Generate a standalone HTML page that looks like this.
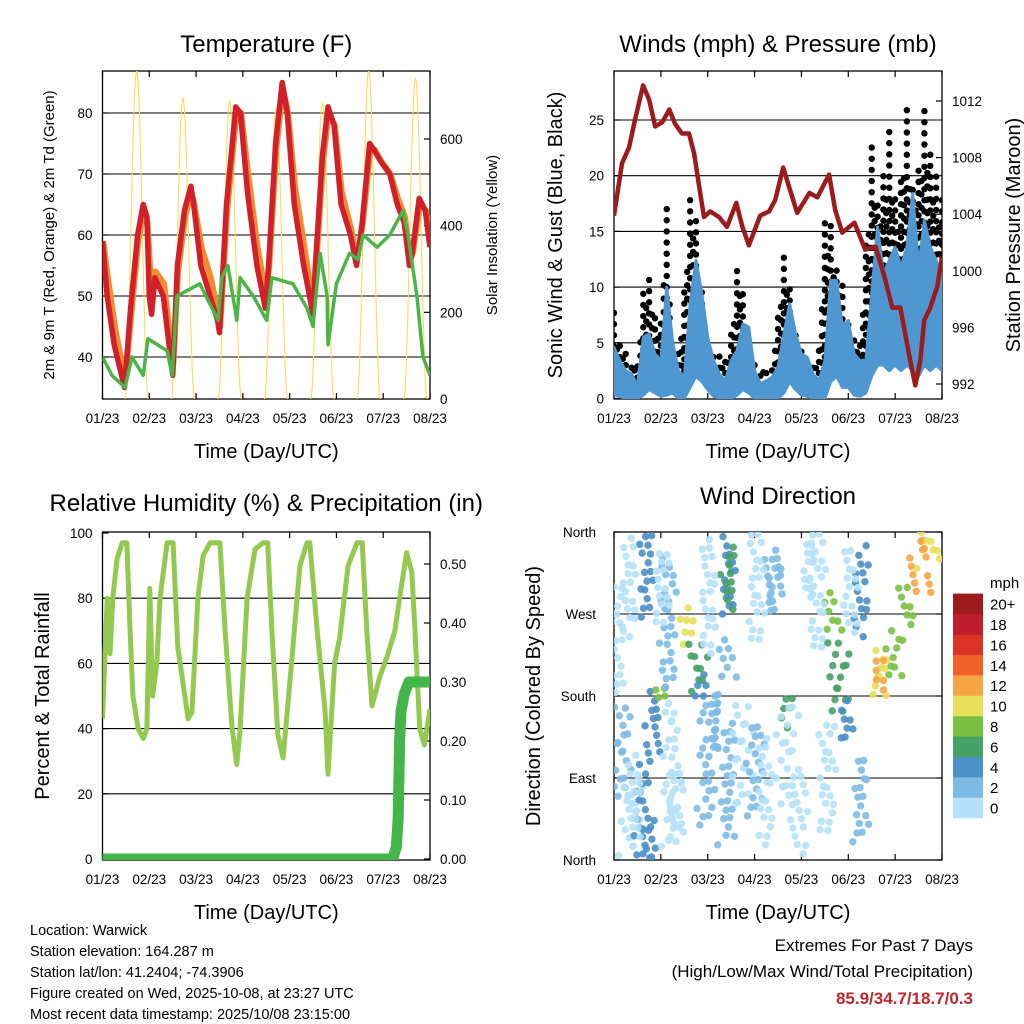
<!DOCTYPE html>
<html><head><meta charset="utf-8"><style>
html,body{margin:0;padding:0;background:#fff;}
svg{display:block;font-family:"Liberation Sans",Arial,sans-serif;}
</style></head><body>
<svg id="c" width="1024" height="1024" viewBox="0 0 1024 1024" xmlns="http://www.w3.org/2000/svg">
<defs>
<clipPath id="cp1"><rect x="102.5" y="71" width="327.5" height="328"/></clipPath>
<clipPath id="cp2"><rect x="614" y="71" width="328" height="328"/></clipPath>
<clipPath id="cp3"><rect x="102.5" y="532" width="327.5" height="328"/></clipPath>
<clipPath id="cp4"><rect x="614" y="532" width="328" height="328"/></clipPath>
</defs>
<g id="g1"></g>
<g id="g2"></g>
<g id="g3"></g>
<g id="g4"></g>
<g font-size="14.5" fill="#000">
<text x="30" y="935">Location: Warwick</text>
<text x="30" y="956">Station elevation: 164.287 m</text>
<text x="30" y="977">Station lat/lon: 41.2404; -74.3906</text>
<text x="30" y="998">Figure created on Wed, 2025-10-08, at 23:27 UTC</text>
<text x="30" y="1019">Most recent data timestamp: 2025/10/08 23:15:00</text>
</g>
<g text-anchor="end">
<text x="973" y="951" font-size="17">Extremes For Past 7 Days</text>
<text x="973" y="977" font-size="17">(High/Low/Max Wind/Total Precipitation)</text>
<text x="973" y="1004" font-size="17" font-weight="bold" fill="#c1272d">85.9/34.7/18.7/0.3</text>
</g>
</svg>
<script>
// ---------- DATA ----------
const dayTicks = ["01/23","02/23","03/23","04/23","05/23","06/23","07/23","08/23"];
const tempTicks = [40,50,60,70,80];
const solarTicks = [0,200,400,600];
const windTicks = [0,5,10,15,20,25];
const presTicks = [992,996,1000,1004,1008,1012];
const rhTicks = [0,20,40,60,80,100];
const rainTicks = [0,0.1,0.2,0.3,0.4,0.5];
const dirTickVals = [0,90,180,270,360];
const dirTickLabels = ["North","East","South","West","North"];
const speedLabels = ["0","2","4","6","8","10","12","14","16","18","20+"];
const speedColors = ["#b5e2f8","#7dbbe6","#4a8fc7","#45a166","#7ac143","#e8e05a","#f6a544","#ef6128","#dc3328","#be1e2d","#9e1a1d"];

const redDays = [0,0.1,0.25,0.47,0.6,0.75,0.87,0.95,1.0,1.05,1.12,1.3,1.5,1.6,1.75,1.89,1.95,2.1,2.3,2.46,2.5,2.65,2.85,2.95,3.1,3.3,3.48,3.55,3.7,3.84,3.95,4.1,4.3,4.5,4.55,4.7,4.82,4.95,5.1,5.3,5.43,5.55,5.71,5.8,5.95,6.14,6.3,6.45,6.56,6.62,6.77,6.9,7];
const redVals = [59,50,42,35,48,60,65,63,50,47,53,50,37,55,64,68,65,55,50,46,44,65,81,80,67,55,48,55,75,85,80,65,55,47,55,73,81,78,65,60,55,62,75,74,72,70,65,62,55,57,66,64,58];
const orangeVals = [59,53,45,36,47,59,64,62,55,52,54,52,39,54,63,67,65,58,53,47,45,64,80,80,70,58,50,55,74,84,80,68,58,48,55,72,80,78,67,61,56,62,74,74,72,70,66,63,56,57,65,64,59];
const tdDays = [0,0.2,0.48,0.63,0.87,0.97,1.38,1.49,1.59,2.08,2.47,2.55,2.68,2.87,2.94,3.22,3.51,3.62,4.07,4.37,4.5,4.65,4.8,4.82,5.0,5.28,5.46,5.57,5.87,6.14,6.42,6.53,6.72,6.85,7];
const tdVals = [40,37,35,40,37,43,41,37,50,52,46,53,55,46,53,50,46,53,52,48,45,57,50,42,52,57,56,60,58,60,64,60,50,40,37];
const solarPeakDays = [0.73,1.72,2.72,3.71,4.70,5.69,6.69];
const solarPeakVals = [758,694,687,671,683,758,740];

const presDays = [0,.17,.32,.45,.62,.75,.88,1.03,1.18,1.30,1.45,1.60,1.71,1.84,1.92,2.05,2.24,2.41,2.61,2.74,2.88,3.12,3.31,3.44,3.61,3.74,3.91,4.17,4.34,4.59,4.72,4.87,5.13,5.36,5.58,5.77,5.94,6.11,6.32,6.43,6.54,6.62,6.75,6.90,7.0];
const presVals = [1003.9,1007.6,1008.7,1010.7,1013.1,1012.1,1010.2,1010.5,1011.4,1010.4,1009.7,1009.7,1008.3,1005.5,1003.8,1004.2,1003.8,1003.1,1004.8,1003.1,1001.8,1003.9,1004.2,1005.0,1007.3,1005.9,1004.1,1005.5,1005.2,1006.8,1004.3,1002.7,1003.4,1001.5,1001.7,999.6,997.4,997.4,993.7,991.9,993.7,996.5,997.4,998.9,1001];
const windHi = [4.6,3.4,2.5,2.2,1.1,5.5,5.8,4.0,3.4,10,5.1,2.5,1.9,8.5,12.4,9.4,5.5,3.4,2.2,1.6,3.4,4.3,6.7,6.4,2.5,1.3,1.6,1.9,2.8,5.8,8.5,5.8,4.0,3.7,2.2,1.6,3.4,10.6,10.6,6.4,7.0,4.0,3.4,3.4,9.4,15.4,11.2,12.4,13.6,11.8,13.6,18.4,11.8,16.0,13.6,12.4,11];
const windLo = [0.3,0.2,0,0,0,0.3,0.8,0.5,0.2,0.3,0.5,0,0,1,2,1.5,0.8,0.2,0,0,0,0.3,0.8,0.5,0,0,0,0,0,0.5,1.5,0.8,0.3,0.2,0,0,0,1.5,2,1,1,0.3,0.2,0.5,2,3,3,2.5,3,2.5,3,2.5,2,3,2.5,3,2.5];
const gustHi = [8,5,4,3,3,10,11,8,7,17,5,4,10,18.5,16,10,5,4,4,4,6,12,10,5,3,3,3,3,8,13,10,6,5,3,3,5,16,16,12,11,7,6,5,14,23,18,20,24,18,20,26.7,19,21,25.8,22,20,18];

const rhDays = [0,.1,.16,.22,.31,.42,.52,.59,.65,.76,.87,.95,1.01,1.07,1.16,1.23,1.38,1.51,1.61,1.83,1.91,2.04,2.15,2.3,2.51,2.62,2.77,2.87,2.94,3.09,3.26,3.43,3.53,3.62,3.75,3.86,4.01,4.22,4.37,4.43,4.59,4.76,4.82,4.96,5.07,5.25,5.44,5.55,5.65,5.76,5.93,6.08,6.25,6.35,6.5,6.61,6.68,6.78,6.88,7];
const rhVals = [43,80,63,80,92,97,97,70,50,40,37,40,83,50,60,80,97,97,65,43,45,80,93,97,97,70,40,29,40,80,95,97,97,70,38,31,55,90,97,97,70,45,26,60,68,90,97,97,70,47,56,62,70,80,94,88,70,40,35,46];
const rainDays = [0,6.2,6.28,6.32,6.35,6.38,6.45,6.55,6.62,7];
const rainVals = [0,0,0.02,0.07,0.2,0.25,0.28,0.3,0.3,0.3];

// wind direction streaks: start day, end day, dir start, dir end, speed (mph)
const wdDay0 = [0.0,0.05,0.2,0.55,0.65,0.7,0.8,0.95,1.1,1.15,1.55,1.7,1.85,1.9,2.05,2.35,2.4,2.3,2.35,2.6,2.95,3.35,3.4,3.6,3.6,3.9,4.55,4.7,4.9,5.2,5.25,5.6,5.65,5.9,6.2,6.45,6.6,0.3,1.0,2.0,3.0,4.1,4.3,5.0,0.4,1.3,3.2,4.5];
const wdDay1 = [0.1,0.3,0.6,0.65,0.75,0.85,0.95,1.0,1.2,1.35,1.7,1.9,1.95,2.1,2.3,2.55,2.5,2.5,2.5,3.0,3.1,3.55,3.5,3.85,3.9,4.0,4.75,4.9,5.0,5.35,5.3,5.8,5.75,6.1,6.3,6.8,7.0,0.35,1.05,2.05,3.1,4.2,4.4,5.1,0.45,1.35,3.3,4.6];
const wdDir0 = [180,70,10,5,270,0,110,175,190,20,275,240,200,40,120,270,280,200,20,60,50,270,290,150,60,10,250,240,130,20,250,180,190,200,260,290,320,250,260,230,240,290,230,250,20,20,20,30];
const wdDir1 = [300,170,90,100,360,40,180,190,330,170,240,190,180,180,180,350,340,240,150,170,150,340,330,180,170,90,290,160,170,110,340,230,220,250,300,360,360,350,340,350,360,350,360,340,110,100,130,150];
const wdSpd = [1,2,1,4,4,5,4,9,2,1,10,7,4,2,2,4,6,3,2,1,3,2,3,7,1,1,8,6,4,2,4,11,12,9,9,13,11,1,1,1,1,1,1,1,1,0,1,1];

// ---------- HELPERS ----------
const NS = "http://www.w3.org/2000/svg";
function mk(parent, tag, attrs, txt){
  const e = document.createElementNS(NS, tag);
  for (const k in attrs) e.setAttribute(k, attrs[k]);
  if (txt !== undefined) e.textContent = txt;
  parent.appendChild(e);
  return e;
}
function poly(xs, ys){ return xs.map((x,i)=>x.toFixed(1)+","+ys[i].toFixed(1)).join(" "); }

const P1 = {x0:102.5, x1:430, y0:71, y1:399};
const P2 = {x0:614, x1:942, y0:71, y1:399};
const P3 = {x0:102.5, x1:430, y0:532, y1:860};
const P4 = {x0:614, x1:942, y0:532, y1:860};
function dx(P,d){ return P.x0 + d*(P.x1-P.x0)/7; }
const tY = v => 357 - (v-40)*6.1;
const sY = v => 399 - v*0.4333;
const wY = v => 398.5 - v*11.14;
const pY = p => 384 - (p-992)*14.15;
const rY = v => 859 - v*3.26;
const prY = p => 859 - p*590;
const dY = v => 860 - v*328/360;

function frame(g, P, title, titleY){
  const hg = mk(g,"g",{});
  
  
  const r = mk(g,"rect",{x:P.x0,y:P.y0,width:P.x1-P.x0,height:P.y1-P.y0,fill:"none",stroke:"#000","stroke-width":1.3});
  
  
  const t = mk(g,"text",{x:(P.x0+P.x1)/2,y:titleY,"text-anchor":"middle","font-size":24},title);
  
  
  const xg = mk(g,"g",{"font-size":13.5,"text-anchor":"middle"});
  
  
  dayTicks.forEach((lab,i)=>{
    const x = dx(P,i);
    mk(xg,"line",{x1:x,x2:x,y1:P.y1,y2:P.y1-6,stroke:"#000","stroke-width":1.2});
    mk(xg,"line",{x1:x,x2:x,y1:P.y0,y2:P.y0+6,stroke:"#000","stroke-width":1.2});
    const tl = mk(xg,"text",{x:x,y:P.y1+24},lab);
    
    
  });
  const xt = mk(g,"text",{x:(P.x0+P.x1)/2,y:P.y1+59,"text-anchor":"middle","font-size":20},"Time (Day/UTC)");
  
  
  return hg;
}
function leftAxis(g, hg, P, ticks, yf, labf, grid){
  ticks.forEach(v=>{
    const y = yf(v);
    mk(g,"line",{x1:P.x0,x2:P.x0+6,y1:y,y2:y,stroke:"#000","stroke-width":1.2});
    if (grid && y>P.y0+2 && y<P.y1-2) mk(hg,"line",{x1:P.x0,x2:P.x1,y1:y,y2:y,stroke:"#000","stroke-width":1.1});
    const t = mk(g,"text",{x:P.x0-10,y:y+5,"text-anchor":"end","font-size":13.5},labf(v));
    
    
  });
}
function rightAxis(g, P, ticks, yf, labf){
  ticks.forEach(v=>{
    const y = yf(v);
    mk(g,"line",{x1:P.x1,x2:P.x1-6,y1:y,y2:y,stroke:"#000","stroke-width":1.2});
    const t = mk(g,"text",{x:P.x1+10,y:y+5,"font-size":13.5},labf(v));
    
    
  });
}
function yTitle(g, x, y, txt, fs, name){
  const t = mk(g,"text",{x:x,y:y,"text-anchor":"middle","font-size":fs,transform:`rotate(-90 ${x} ${y})`},txt);
  
  
}

// ---------- PANEL 1 ----------
(function(){
  const g = document.getElementById("g1");
  const hg = frame(g,P1,"Temperature (F)",52);
  leftAxis(g,hg,P1,tempTicks,tY,v=>String(v),true);
  rightAxis(g,P1,solarTicks,sY,v=>String(v));
  yTitle(g,54,235,"2m & 9m T (Red, Orange) & 2m Td (Green)",15,"left-y-axis-title");
  yTitle(g,497,235,"Solar Insolation (Yellow)",15,"right-y-axis-title");
  const cg = mk(g,"g",{"clip-path":"url(#cp1)"});
  solarPeakDays.forEach((pd,i)=>{
    const xs=[], ys=[];
    for(let k=0;k<=40;k++){
      const d = pd-0.25+k*0.5/40;
      const s = Math.sin(Math.PI*k/40);
      xs.push(dx(P1,d)); ys.push(sY(solarPeakVals[i]*s*s));
    }
    const l = mk(cg,"polyline",{points:poly(xs,ys),fill:"none",stroke:"#f9dc5c","stroke-width":1.1});
    
    
  });
  const o = mk(cg,"polyline",{points:poly(redDays.map(d=>dx(P1,d+0.015)),orangeVals.map(tY)),fill:"none",stroke:"#f58b31","stroke-width":6,"stroke-linejoin":"round"});
  
  
  const r = mk(cg,"polyline",{points:poly(redDays.map(d=>dx(P1,d)),redVals.map(tY)),fill:"none",stroke:"#d0212b","stroke-width":5.5,"stroke-linejoin":"round"});
  
  
  const gr = mk(cg,"polyline",{points:poly(tdDays.map(d=>dx(P1,d)),tdVals.map(tY)),fill:"none",stroke:"#4bb547","stroke-width":3.5,"stroke-linejoin":"round"});
  
  
})();

// ---------- PANEL 2 ----------
(function(){
  const g = document.getElementById("g2");
  const hg = frame(g,P2,"Winds (mph) & Pressure (mb)",52);
  leftAxis(g,hg,P2,windTicks,wY,v=>String(v),true);
  rightAxis(g,P2,presTicks,pY,v=>String(v));
  yTitle(g,562,235,"Sonic Wind & Gust (Blue, Black)",20,"left-y-axis-title");
  yTitle(g,1020,235,"Station Pressure (Maroon)",20,"right-y-axis-title");
  const cg = mk(g,"g",{"clip-path":"url(#cp2)"});
  const n = gustHi.length, step = 7/(n-1);
  const bg = mk(cg,"g",{fill:"#000"});
  
  
  for(let i=0;i<n;i++){
    const d = i*step;
    const lo = windHi[i]*0.8, hi = gustHi[i];
    for(let v=lo; v<=hi+0.01; v+=1.0){
      mk(bg,"circle",{cx:dx(P2,d),cy:wY(v),r:3.2});
    }
    if(i<n-1){
      const d2=d+step/2, lo2=(windHi[i]+windHi[i+1])/2*0.8, hi2=(gustHi[i]+gustHi[i+1])/2*0.85;
      for(let v=lo2; v<=hi2; v+=1.2) mk(bg,"circle",{cx:dx(P2,d2),cy:wY(v),r:3.2});
    }
  }
  const xs=[], ys=[];
  for(let i=0;i<n;i++){ xs.push(dx(P2,i*step)); ys.push(wY(windHi[i])); }
  for(let i=n-1;i>=0;i--){ xs.push(dx(P2,i*step)); ys.push(wY(windLo[i])); }
  const band = mk(cg,"polygon",{points:poly(xs,ys),fill:"#4f97d1",stroke:"#4f97d1","stroke-width":3,"stroke-linejoin":"round"});
  
  
  const p = mk(cg,"polyline",{points:poly(presDays.map(d=>dx(P2,d)),presVals.map(pY)),fill:"none",stroke:"#9b1b1e","stroke-width":4.5,"stroke-linejoin":"round"});
  
  
})();

// ---------- PANEL 3 ----------
(function(){
  const g = document.getElementById("g3");
  const hg = frame(g,P3,"Relative Humidity (%) & Precipitation (in)",511);
  leftAxis(g,hg,P3,rhTicks,rY,v=>String(v),true);
  rightAxis(g,P3,rainTicks,prY,v=>v.toFixed(2));
  yTitle(g,49,696,"Percent & Total Rainfall",20,"left-y-axis-title");
  const cg = mk(g,"g",{"clip-path":"url(#cp3)"});
  const l = mk(cg,"polyline",{points:poly(rhDays.map(d=>dx(P3,d)),rhVals.map(rY)),fill:"none",stroke:"#93c94e","stroke-width":5,"stroke-linejoin":"round"});
  
  
  const rl = mk(cg,"polyline",{points:poly(rainDays.map(d=>dx(P3,d)),rainVals.map(prY)),fill:"none",stroke:"#44b549","stroke-width":11,"stroke-linejoin":"round","stroke-linecap":"round"});
  
  
})();

// ---------- PANEL 4 ----------
(function(){
  const g = document.getElementById("g4");
  const hg = frame(g,P4,"Wind Direction",504);
  dirTickVals.forEach((v,i)=>{
    const y=dY(v);
    mk(g,"line",{x1:P4.x0,x2:P4.x0+6,y1:y,y2:y,stroke:"#000","stroke-width":1.2});
    mk(g,"line",{x1:P4.x1,x2:P4.x1-6,y1:y,y2:y,stroke:"#000","stroke-width":1.2});
    if(i>0&&i<4) mk(hg,"line",{x1:P4.x0,x2:P4.x1,y1:y,y2:y,stroke:"#000","stroke-width":1.1});
    const t = mk(g,"text",{x:P4.x0-18,y:y+5,"text-anchor":"end","font-size":13.5},dirTickLabels[i]);
    
    
  });
  yTitle(g,540,696,"Direction (Colored By Speed)",20,"left-y-axis-title");
  const cg = mk(g,"g",{"clip-path":"url(#cp4)","fill-opacity":0.9});
  
  
  for(let i=0;i<wdSpd.length;i++){
    const y0=dY(wdDir0[i]), y1=dY(wdDir1[i]);
    const cnt = Math.max(2, Math.round(Math.abs(y1-y0)/5));
    const ci = Math.min(10, Math.floor(wdSpd[i]/2));
    for(let k=0;k<=cnt;k++){
      const f=k/cnt;
      const d = wdDay0[i]+(wdDay1[i]-wdDay0[i])*((k*7)%(cnt+1))/(cnt+1);
      const jx = ((k*13+i*5)%9-4)*1.6;
      const jy = ((k*11+i*3)%7-3)*1.5;
      mk(cg,"circle",{cx:dx(P4,d)+jx,cy:y0+(y1-y0)*f+jy,r:3.7,fill:speedColors[ci]});
    }
  }
  const lg = mk(g,"g",{});
  
  
  mk(lg,"text",{x:990,y:588,"font-size":15},"mph");
  speedLabels.forEach((lab,i)=>{
    const y = 818 - (i+1)*20.4;
    const rr = mk(lg,"rect",{x:953,y:y,width:30,height:20.6,fill:speedColors[i]});
    
    
    const t = mk(lg,"text",{x:990,y:y+16,"font-size":15},lab);
    
    
  });
})();
</script>
</body></html>
